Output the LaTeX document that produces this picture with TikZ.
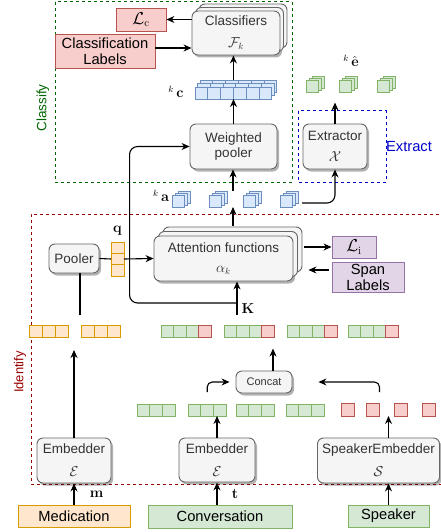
\documentclass[tikz,border=0pt]{standalone}
\usepackage[no-math]{fontspec}
\setmainfont{Liberation Sans}
\usepackage{amsmath}
\usepackage{bm}
\usetikzlibrary{arrows.meta,shadows,calc}

\definecolor{boxfill}{HTML}{F5F5F5}
\definecolor{boxline}{HTML}{666666}
\definecolor{boxtext}{HTML}{333333}
\definecolor{bfill}{HTML}{DAE8FC}
\definecolor{bline}{HTML}{6C8EBF}
\definecolor{gfill}{HTML}{D5E8D4}
\definecolor{gline}{HTML}{82B366}
\definecolor{rfill}{HTML}{F8CECC}
\definecolor{rline}{HTML}{B85450}
\definecolor{ofill}{HTML}{FFE6CC}
\definecolor{oline}{HTML}{D79B00}
\definecolor{pfill}{HTML}{E1D5E7}
\definecolor{pline}{HTML}{9673A6}
\definecolor{clsgreen}{HTML}{006600}
\definecolor{extblue}{HTML}{0000CC}
\definecolor{idred}{HTML}{990000}

\begin{document}
\begin{tikzpicture}
[x=1pt,y=-1pt,
 every node/.style={font=\fontsize{13.5}{15}\selectfont},
 box/.style={draw=boxline,fill=boxfill,text=boxtext,line width=0.9pt,rounded corners=6pt,align=center,inner sep=1pt,
   drop shadow={shadow xshift=2pt,shadow yshift=-2.5pt,opacity=0.3,fill=black}},
 layers/.style={box,double copy shadow={shadow xshift=#1,shadow yshift=#1}},
 tag/.style={draw,line width=0.9pt,align=center,inner sep=1pt,font=\fontsize{14.7}{16}\selectfont},
 redtag/.style={tag,draw=rline,fill=rfill},
 purptag/.style={tag,draw=pline,fill=pfill},
 orgtag/.style={tag,draw=oline,fill=ofill},
 grntag/.style={tag,draw=gline,fill=gfill},
 cell/.style={draw,line width=0.9pt,inner sep=0pt,outer sep=0pt},
 gcell/.style={cell,draw=gline,fill=gfill},
 rcell/.style={cell,draw=rline,fill=rfill},
 ocell/.style={cell,draw=oline,fill=ofill},
 kcell/.style={cell,draw=bline,fill=bfill,minimum width=12.8pt,minimum height=12pt,
   double copy shadow={shadow xshift=2.5pt,shadow yshift=3.5pt}},
 bcube/.style={cell,draw=bline,fill=bfill,minimum size=12pt,double copy shadow={shadow xshift=3pt,shadow yshift=2pt}},
 gcube/.style={cell,draw=gline,fill=gfill,minimum size=12pt,double copy shadow={shadow xshift=3pt,shadow yshift=2pt}},
 arr/.style={-{Stealth[length=8pt,width=7pt]},line width=1.1pt},
 line/.style={line width=1.1pt},
 region/.style={line width=1pt,dash pattern=on 3pt off 3pt}]
\useasboundingbox (0,0) rectangle (440,532);

% classify
\draw[region,draw=clsgreen] (55,2) rectangle (292,182);
\node[rotate=90,text=clsgreen] (clsname) at (43,108) {Classify};
\node[redtag,minimum width=50pt,minimum height=23pt,font=\fontsize{16}{18}\selectfont] (lc) at (141,19.5) {$\mathcal{L}_{\mathrm{c}}$};
\node[redtag,minimum width=100pt,minimum height=34pt] (clab) at (105,51) {Classification\\Labels};
\node[layers=3.5pt,minimum width=88pt,minimum height=44pt] (clf) at (236,33) {Classifiers\\[7pt]$\mathcal{F}_k$};
\foreach \i in {1,...,6}
  \node[kcell] (kc-\i) at ({195+12.8*\i-6.4},93) {};
\node (kclab) at (176,92) {$^k\,\mathbf{c}$};
\node[box,minimum width=87pt,minimum height=45pt] (wp) at (233.5,146.5) {Weighted\\pooler};
\foreach \x [count=\i] in {178,215,249,286}
  \node[bcube] (ka-\i) at (\x,201) {};
\node (kalab) at (161,196) {$^k\,\mathbf{a}$};

% extract
\draw[region,draw=extblue] (298,111) rectangle (386,182);
\node[text=extblue,font=\fontsize{14.7}{16}\selectfont] (extname) at (409,147) {Extract};
\node[box,minimum width=64pt,minimum height=45pt] (ext) at (335,146.5) {Extractor\\[6pt]$\mathcal{X}$};
\foreach \x [count=\i] in {312,345,383}
  \node[gcube] (eh-\i) at (\x,86) {};
\node (ehlab) at (351,61) {$^k\,\hat{\mathbf{e}}$};

% identify
\draw[region,draw=idred] (445,214) -| (31,484) -- (445,484);
\node[rotate=90,text=idred,font=\fontsize{13}{15}\selectfont] (idname) at (20,372) {Identify};
\node[box,minimum width=50pt,minimum height=29pt] (pooler) at (74,258.5) {Pooler};
\foreach \y [count=\i] in {247.7,259,270.3}
  \node[ocell,minimum width=13pt,minimum height=11.3pt] (q-\i) at (117.5,\y) {};
\node (qlab) at (117.5,231) {$\mathbf{q}$};
\node[layers=4.5pt,minimum width=139pt,minimum height=45pt] (att) at (223.5,258.5) {Attention functions\\[5pt]$\alpha_k$};
\node[purptag,minimum width=44pt,minimum height=22pt,font=\fontsize{16}{18}\selectfont] (li) at (354,247) {$\mathcal{L}_{\mathrm{i}}$};
\node[purptag,minimum width=72pt,minimum height=30pt] (span) at (368,277) {Span\\Labels};

% token vectors
\foreach \s [count=\v] in {161,224,287,348} {
  \foreach \i in {1,2,3}
    \node[gcell,minimum width=12.5pt,minimum height=11.5pt] (u-\v-\i) at ({\s+12.5*\i-6.25},331.5) {};
  \node[rcell,minimum width=12.5pt,minimum height=11.5pt] (u-\v-4) at ({\s+43.75},331.5) {};
}
\foreach \s [count=\v] in {29,81}
  \foreach \i in {1,2,3}
    \node[ocell,minimum width=13pt,minimum height=12pt] (o-\v-\i) at ({\s+13*\i-6.5},331) {};
\foreach \s [count=\v] in {137,188,236,286}
  \foreach \i in {1,2,3}
    \node[gcell,minimum width=12.8pt,minimum height=12pt] (g-\v-\i) at ({\s+12.8*\i-6.4},410) {};
\foreach \s [count=\i] in {341,366,394,422}
  \node[rcell,minimum width=13.5pt,minimum height=13pt] (r-\i) at ({\s+6.75},409.5) {};
\node[box,minimum width=56pt,minimum height=22pt,font=\fontsize{11}{13}\selectfont] (concat) at (264,382) {Concat};

% embedders and inputs
\node[box,minimum width=74pt,minimum height=45pt] (embm) at (74,460.5) {Embedder\\[8pt]$\mathcal{E}$};
\node[box,minimum width=76pt,minimum height=44pt] (embc) at (217,460) {Embedder\\[8pt]$\mathcal{E}$};
\node[box,minimum width=122pt,minimum height=45pt] (embs) at (378.5,460.5) {SpeakerEmbedder\\[8pt]$\mathcal{S}$};
\node[orgtag,minimum width=112pt,minimum height=22pt] (med) at (74,516) {Medication};
\node[grntag,minimum width=144pt,minimum height=23pt] (conv) at (220,516.5) {Conversation};
\node[grntag,minimum width=81pt,minimum height=22pt] (spk) at (388.5,516) {Speaker};

% connectors
\coordinate (col) at (233,0);
\coordinate (kin) at (237,315);
\coordinate (pin) at (80,315);
\coordinate (mout) at (74,350);
\draw[arr] (clf.west |- lc) -- (lc.east);
\draw[arr] ($(clab.east)+(0,-3)$) -- ($(clab.east -| clf.west)+(0,-3)$);
\draw[arr] ($(kc-3.north east)+(0,-7)$) -- (kc-3.north east |- clf.south);
\draw[arr] (wp.north) -- (wp.north |- kc-3.south);
\draw[arr] ($(col |- ka-1.north)+(0,-4)$) -- (col |- wp.south);
\draw[arr] ($(col |- att.north)+(0,-10)$) -- (col |- ka-1.south);
\draw[arr] (kin) -- (kin |- att.south);
\draw[arr,rounded corners=8pt] ($(kin)+(0,-12)$) -| ($(wp.west)+(-60,0)$) -- (wp.west);
\node (klab) at (248,309) {$\mathbf{K}$};
\draw[arr,shorten <=11pt] (att.east |- li.west) -- (li.west);
\draw[arr] ($(span.west)+(-3,-7)$) -- ($(att.east)+(15,11.5)$);
\draw[line] (pooler.east) -- (q-2.west);
\draw[arr] (q-2.east) -- (att.west);
\draw[line] (pin) -- (pin |- pooler.south);
\draw[arr] (embm.north) -- (mout);
\draw[arr] (med.north) -- node[right=12pt] (mlab) {$\mathbf{m}$} (embm.south);
\draw[arr] (embc.south |- conv.north) -- node[right=11pt] (tlab) {$\mathbf{t}$} (embc.south);
\draw[arr] (embc.north) -- (embc.north |- g-2-3.south);
\draw[arr] (spk.north) -- (spk.north |- embs.south);
\draw[arr] (spk |- embs.north) -- (spk |- r-1.south);
\draw[arr,rounded corners=5pt] ($(r-2.north east)+(0,-11)$) |- ($(concat.east)+(26,0)$);
\draw[arr,rounded corners=5pt] ($(g-2-2.north)+(0,-12)$) |- ($(concat.west)+(-6,0)$);
\draw[arr] ($(concat.north)+(9,0)$) -- ($(concat.north)+(9,-22)$);
\draw[arr] (ext.north) -- ++(0,-21);
\draw[arr,rounded corners=8pt] ($(ka-4.east)+(10,2)$) -| (ext.south);
\end{tikzpicture}
\end{document}
